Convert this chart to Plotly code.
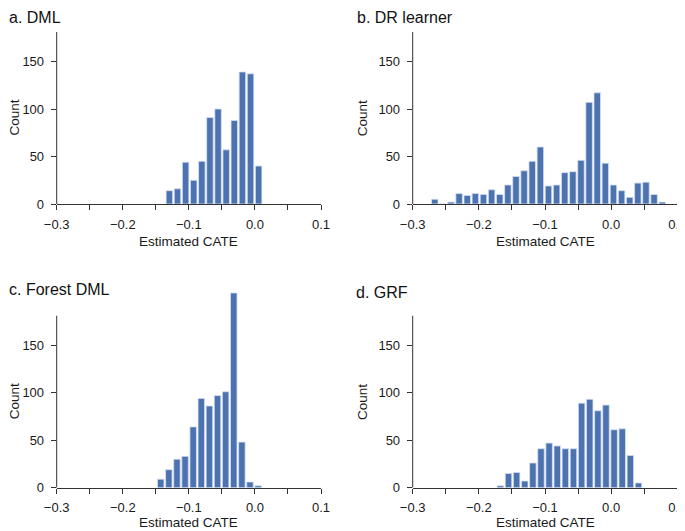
import plotly.graph_objects as go

BIN_W = 0.01228

# panel a: DML
a_start = -0.1356
a_counts = [14, 16, 44, 25, 45, 91, 100, 57, 88, 139, 137, 40]
# panel b: DR learner
b_start = -0.2728
b_counts = [5, 0, 2, 11, 9, 11, 10, 15, 10, 20, 29, 35, 45, 60, 19, 20, 33, 34, 46,
            107, 117, 43, 20, 14, 7, 22, 23, 10, 2]
# panel c: Forest DML
c_start = -0.1487
c_counts = [9, 19, 30, 33, 64, 94, 86, 97, 101, 205, 48, 6, 2]
# panel d: GRF
d_start = -0.1736
d_counts = [2, 15, 16, 7, 26, 41, 47, 44, 41, 41, 89, 93, 81, 87, 61, 62, 34, 5]

titles = ["a. DML", "b. DR learner", "c. Forest DML", "d. GRF"]
x_title = "Estimated CATE"
y_title = "Count"
x_tickvals = [-0.3, -0.25, -0.2, -0.15, -0.1, -0.05, 0.0, 0.05, 0.1]
x_ticktext = ["\u22120.3", "", "\u22120.2", "", "\u22120.1", "", "0.0", "", "0.1"]
y_tickvals = [0, 50, 100, 150]
Y_AXIS_TOP = 181
y_range_tops = [185, 185, 212, 212]

panels = [(a_start, a_counts), (b_start, b_counts), (c_start, c_counts), (d_start, d_counts)]

BAR = "#4C72B0"
EDGE = "#d6dff0"
AX = "#333333"
TXT = "#1a1a1a"
FONT = "Liberation Sans, Arial, sans-serif"

# page is offset by the default 8px body margin
OFF = 8
W, H = 685 - OFF, 531 - OFF
PX_PER_UNIT = 142.5 / 150.0


def fx(px):
    return (px - OFF) / W


def fy(py):
    return 1 - (py - OFF) / H


x_left = [56.7, 412.7]
x_right = [321.0, 677.3]
y_zero = [204.0, 487.7]
x_title_drop = [37.7, 34.5]

fig = go.Figure()
for i, (start, counts) in enumerate(panels):
    centers = [start + BIN_W * (k + 0.5) for k in range(len(counts))]
    n = i + 1
    col, row = i % 2, i // 2
    xa = "x" if n == 1 else f"x{n}"
    ya = "y" if n == 1 else f"y{n}"
    fig.add_trace(go.Bar(
        x=centers, y=counts, xaxis=xa, yaxis=ya,
        width=BIN_W * 0.8,
        marker=dict(color=BAR, line=dict(color=EDGE, width=0.8)),
        showlegend=False, hoverinfo="skip",
    ))
    xkey = "xaxis" if n == 1 else f"xaxis{n}"
    ykey = "yaxis" if n == 1 else f"yaxis{n}"
    top_px = y_zero[row] - y_range_tops[i] * PX_PER_UNIT
    fig.layout[xkey] = dict(
        domain=[fx(x_left[col]), fx(x_right[col])], anchor=ya, range=[-0.3, 0.1],
        automargin=False, tickvals=x_tickvals, ticktext=x_ticktext,
        ticks="outside", ticklen=5, tickwidth=1, tickcolor=AX, ticklabelstandoff=3,
        ticklabeloverflow="allow",
        showline=True, linecolor=AX, linewidth=1, showgrid=False, zeroline=False,
        tickfont=dict(family=FONT, size=13, color=TXT),
    )
    fig.layout[ykey] = dict(
        domain=[fy(y_zero[row]), fy(top_px)], anchor=xa, range=[0, y_range_tops[i]],
        automargin=False, tickvals=y_tickvals,
        ticks="outside", ticklen=5, tickwidth=1, tickcolor=AX, ticklabelstandoff=4,
        showline=False, showgrid=False, zeroline=False,
        tickfont=dict(family=FONT, size=13, color=TXT),
    )
    fig.add_shape(type="line", xref=f"{xa} domain", yref=ya, x0=0, x1=0, y0=0, y1=Y_AXIS_TOP,
                  line=dict(color=AX, width=1), layer="above")
    # axis titles
    fig.add_annotation(text=x_title, xref="paper", yref="paper",
                       x=fx((x_left[col] + x_right[col]) / 2), y=fy(y_zero[row] + x_title_drop[row]),
                       xanchor="center", yanchor="middle", showarrow=False,
                       font=dict(family=FONT, size=13.5, color=TXT))
    count_x = [14.5, 362.3][col]
    fig.add_annotation(text=y_title, xref="paper", yref="paper", textangle=-90,
                       x=fx(count_x), y=fy(y_zero[row] - Y_AXIS_TOP * PX_PER_UNIT / 2),
                       xanchor="center", yanchor="middle", showarrow=False,
                       font=dict(family=FONT, size=13.5, color=TXT))

title_pos = [(8, None), (356, None), (2, 289), (355, 292)]
for t, (px, py) in zip(titles, title_pos):
    if py is None:
        yv, ya_ = 1.0, "top"
    else:
        yv, ya_ = fy(py), "middle"
    fig.add_annotation(
        text=t, xref="paper", yref="paper", x=max(fx(px), 0), y=yv,
        xanchor="left", yanchor=ya_, showarrow=False, borderpad=0,
        font=dict(family=FONT, size=16, color="#111"),
    )

fig.update_layout(
    width=W, height=H, margin=dict(l=0, r=0, t=0, b=0),
    paper_bgcolor="white", plot_bgcolor="white",
)
fig.write_html("out.html")
